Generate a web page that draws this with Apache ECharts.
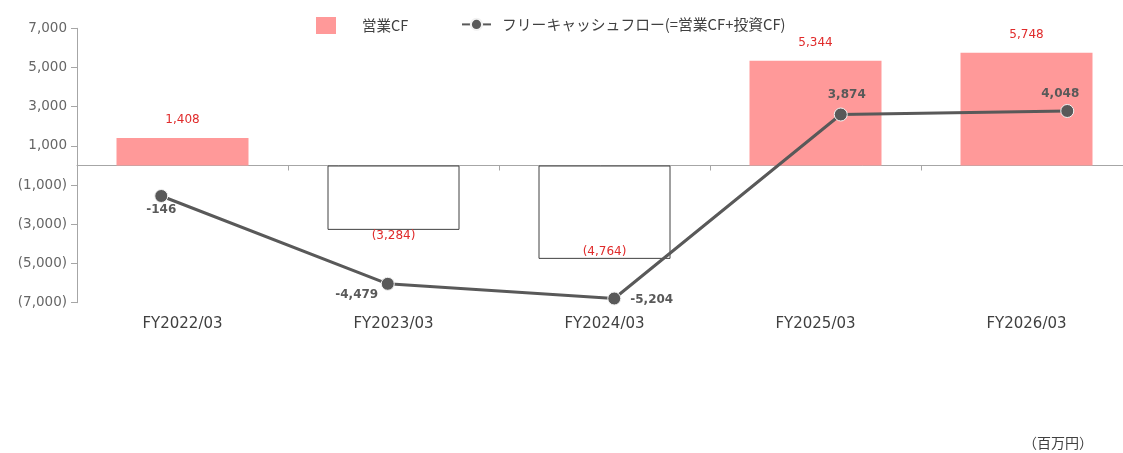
<!DOCTYPE html>
<html>
<head>
<meta charset="utf-8">
<script src="https://cdn.jsdelivr.net/npm/echarts@6/dist/echarts.min.js"></script>
<style>
html,body{margin:0;padding:0;background:#fff;overflow:hidden;}
#main{width:1123px;height:453px;}
</style>
</head>
<body>
<div id="main"></div>
<script>
var categories = ['FY2022/03', 'FY2023/03', 'FY2024/03', 'FY2025/03', 'FY2026/03'];
var operatingCF = [1408, -3284, -4764, 5344, 5748];
var freeCF = [-146, -4479, -5204, 3874, 4048];
var yTicks = { min: -7000, max: 7000, interval: 2000 };

function fmt(v) {
  var s = Math.abs(v).toString().replace(/\B(?=(\d{3})+(?!\d))/g, ',');
  return v < 0 ? '(' + s + ')' : s;
}
function fmtMinus(v) {
  var s = Math.abs(v).toString().replace(/\B(?=(\d{3})+(?!\d))/g, ',');
  return v < 0 ? '-' + s : s;
}

var barLabelCfg = [
  { position: 'top', distance: 12 },
  { position: 'bottom', distance: 0 },
  { position: 'insideBottom', distance: 1 },
  { position: 'top', distance: 12 },
  { position: 'top', distance: 12 }
];
var lineLabelCfg = [
  { position: 'bottom', distance: 1, offset: [0, 0] },
  { position: 'bottom', distance: 1, offset: [-31, -3] },
  { position: 'right', distance: 9, offset: [0, 1] },
  { position: 'top', distance: 7, offset: [6, 0] },
  { position: 'top', distance: 4, offset: [-7, 0] }
];

var barData = operatingCF.map(function (v, i) {
  var item = {
    value: v,
    label: barLabelCfg[i]
  };
  if (v < 0) {
    item.itemStyle = { color: '#FFFFFF', borderColor: '#404040', borderWidth: 1 };
  }
  return item;
});
var lineData = freeCF.map(function (v, i) {
  return { value: v, label: lineLabelCfg[i] };
});

var chart = echarts.init(document.getElementById('main'));
chart.setOption({
  animation: false,
  backgroundColor: '#ffffff',
  textStyle: { fontFamily: 'DejaVu Sans' },
  legend: [
    {
      left: 311, top: 12,
      itemWidth: 20, itemHeight: 17,
      icon: 'rect',
      selectedMode: false,
      data: [{ name: '営業CF', itemStyle: { color: '#FF9999', borderWidth: 0 } }],
      textStyle: { fontFamily: 'Noto Sans CJK JP', fontSize: 14.5, color: '#404040', padding: [0, 0, 0, 21] }
    },
    {
      left: 456, top: 12,
      itemWidth: 29, itemHeight: 14,
      selectedMode: false,
      data: [{ name: 'フリーキャッシュフロー(=営業CF+投資CF)' }],
      textStyle: { fontFamily: 'Noto Sans CJK JP', fontSize: 14.8, color: '#404040', padding: [0, 0, 0, 6] }
    }
  ],
  grid: [
    { left: 77, width: 1055, top: 28.3, height: 274.4, containLabel: false, outerBoundsMode: 'none' },
    { left: 48, width: 1132.5, top: 28.3, height: 274.4, containLabel: false, outerBoundsMode: 'none' }
  ],
  xAxis: [
    {
      type: 'category', gridIndex: 0, data: categories,
      axisLine: { onZero: true, lineStyle: { color: '#A6A6A6', width: 1 } },
      axisTick: { show: true, length: 5, lineStyle: { color: '#A6A6A6' } },
      axisLabel: { show: false },
      splitLine: { show: false }
    },
    {
      type: 'category', gridIndex: 0, data: categories, position: 'bottom',
      axisLine: { show: false, onZero: false },
      axisTick: { show: false },
      axisLabel: { show: true, margin: 14, fontSize: 15, color: '#404040', fontFamily: 'DejaVu Sans' },
      splitLine: { show: false }
    },
    {
      type: 'category', gridIndex: 1, data: categories, show: false
    }
  ],
  yAxis: [
    {
      type: 'value', gridIndex: 0,
      min: yTicks.min, max: yTicks.max, interval: yTicks.interval,
      axisLine: { show: true, lineStyle: { color: '#A6A6A6', width: 1 } },
      axisTick: { show: true, length: 6, lineStyle: { color: '#A6A6A6' } },
      axisLabel: { formatter: fmt, fontSize: 13.5, color: '#666666', margin: 10, fontFamily: 'DejaVu Sans' },
      splitLine: { show: false }
    },
    {
      type: 'value', gridIndex: 1,
      min: -5411, max: 8128, show: false,
      splitLine: { show: false }
    }
  ],
  series: [
    {
      name: '営業CF', type: 'bar',
      xAxisIndex: 0, yAxisIndex: 0,
      data: barData,
      barWidth: 132,
      itemStyle: { color: '#FF9999' },
      label: {
        show: true, color: '#E02B2B', fontSize: 12, fontFamily: 'DejaVu Sans',
        formatter: function (p) { return fmt(p.value); }
      }
    },
    {
      name: 'フリーキャッシュフロー(=営業CF+投資CF)', type: 'line',
      xAxisIndex: 2, yAxisIndex: 1,
      data: lineData,
      symbol: 'circle', symbolSize: 13,
      lineStyle: { color: '#595959', width: 3 },
      itemStyle: { color: '#595959', borderColor: '#F2F2F2', borderWidth: 1 },
      label: {
        show: true, color: '#595959', fontSize: 12, fontWeight: 'bold', fontFamily: 'DejaVu Sans',
        formatter: function (p) { return fmtMinus(p.value); }
      },
      z: 5
    }
  ],
  graphic: [
    {
      type: 'text', right: 30, top: 436,
      style: { text: '（百万円）', fontSize: 14, fill: '#404040', fontFamily: 'Noto Sans CJK JP' }
    }
  ]
});
</script>
</body>
</html>
